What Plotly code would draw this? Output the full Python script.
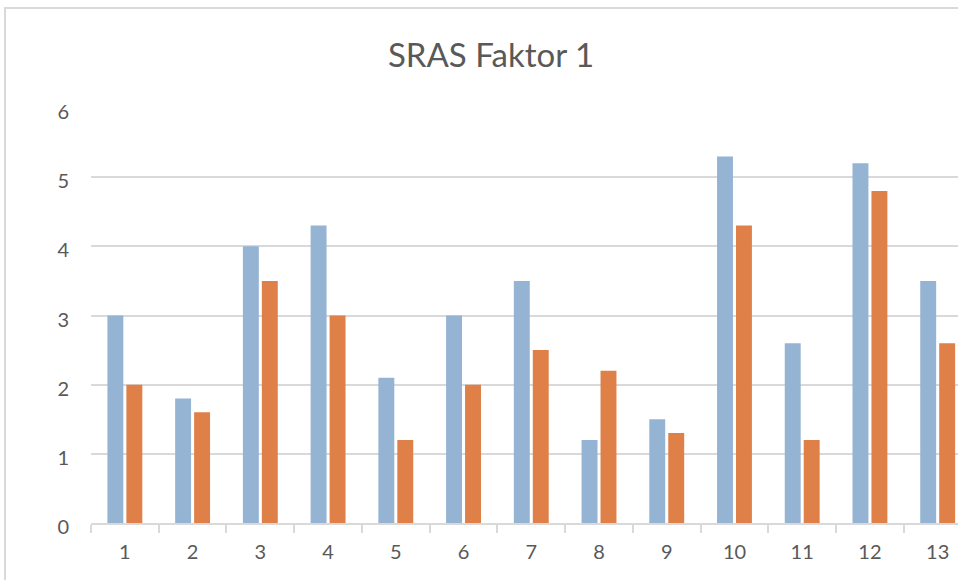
import plotly.graph_objects as go

# Data
categories = [str(i) for i in range(1, 14)]
series_a = [3.0, 1.8, 4.0, 4.3, 2.1, 3.0, 3.5, 1.2, 1.5, 5.3, 2.6, 5.2, 3.5]
series_b = [2.0, 1.6, 3.5, 3.0, 1.2, 2.0, 2.5, 2.2, 1.3, 4.3, 1.2, 4.8, 2.6]
y_ticks = [0, 1, 2, 3, 4, 5, 6]

BLUE = "#95B4D3"
ORANGE = "#DE8047"
TEXT = "#595959"
GRID = "#D9D9D9"
FONT = "Lato, Open Sans, sans-serif"

W, H = 958, 580
ML, MR, MT, MB = 91, 0, 108, 57
pw, ph = W - ML - MR, H - MT - MB

fig = go.Figure()
fig.add_trace(go.Bar(x=categories, y=series_a, marker_color=BLUE, marker_line_width=0))
fig.add_trace(go.Bar(x=categories, y=series_b, marker_color=ORANGE, marker_line_width=0))

# outer chart frame (left/top edges visible)
fx0 = (5 - ML) / pw
fy1 = (H - MB - 8) / ph
fig.add_shape(type="rect", xref="paper", yref="paper",
              x0=fx0, x1=1.2, y0=-0.5, y1=fy1,
              line=dict(color=GRID, width=2), layer="below")

fig.update_layout(
    width=W, height=H,
    margin=dict(l=ML, r=MR, t=MT, b=MB),
    paper_bgcolor="white", plot_bgcolor="white",
    showlegend=False,
    barmode="group", bargap=0.44, bargroupgap=0.16,
    title=dict(text="SRAS Faktor 1", x=491 / W, xref="container", xanchor="center",
               y=1 - 55 / H, yref="container", yanchor="middle",
               font=dict(family=FONT, size=33, color=TEXT)),
    font=dict(family=FONT, color=TEXT),
)
fig.update_xaxes(
    type="category", range=[-0.5, 12.3],
    showline=True, linecolor=GRID, linewidth=2,
    ticks="outside", tickson="boundaries", ticklen=8, tickcolor=GRID, tickwidth=2,
    showgrid=False, tickfont=dict(size=20, color=TEXT), ticklabelstandoff=10,
)
fig.update_yaxes(
    range=[0, 6], tickvals=y_ticks, showline=False, zeroline=False,
    showgrid=True, gridcolor=GRID, gridwidth=2,
    tickfont=dict(size=20, color=TEXT), ticklabelstandoff=21, ticklabelshift=4,
)

fig.write_html("out.html")
